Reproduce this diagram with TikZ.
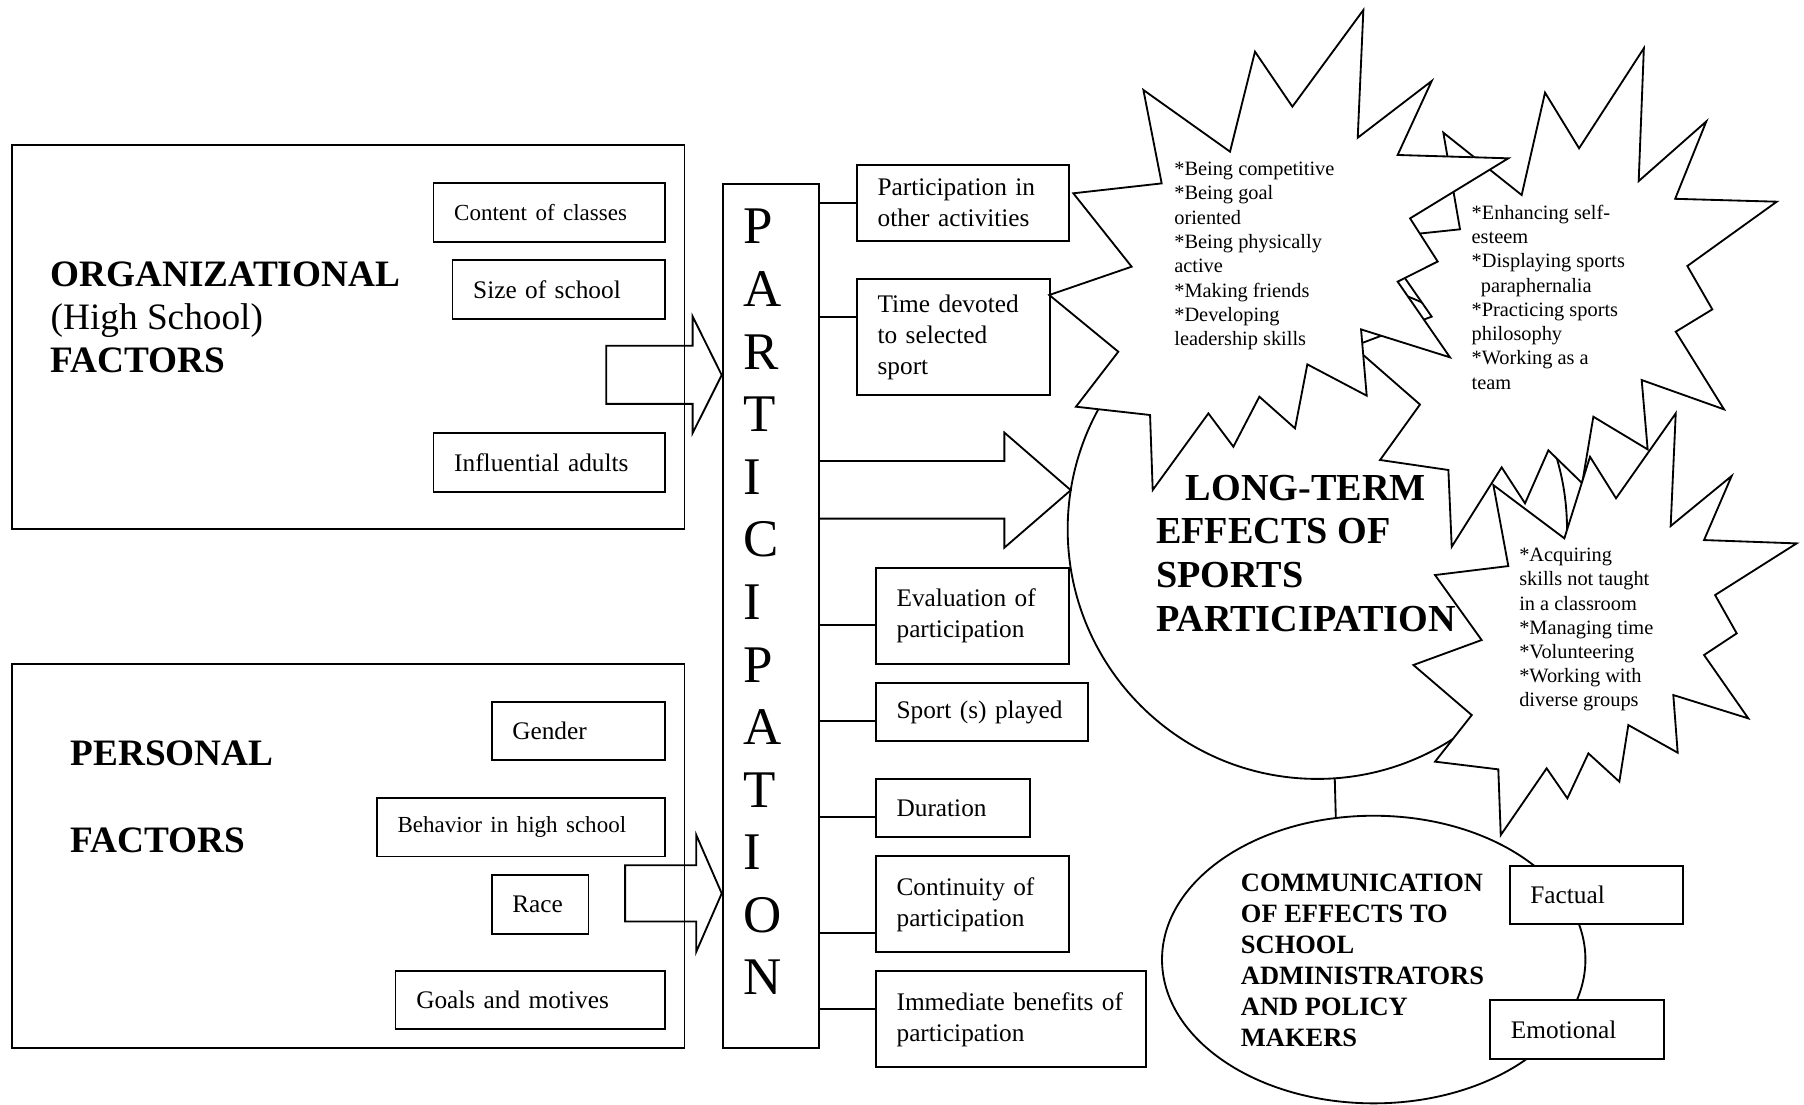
\documentclass[tikz,border=0pt]{standalone}
\usepackage{fontspec}
\setmainfont{Liberation Serif}
\usetikzlibrary{calc,shapes.geometric}
\newcommand\mybox[6]{%
  \pgfmathsetmacro\mbW{(#4-#2)*0.5}%
  \pgfmathsetmacro\mbH{(#5-#3)*0.5}%
  \pgfmathsetmacro\mbT{\mbW-18}%
  \node[bx, minimum width=\mbW pt, minimum height=\mbH pt, text width=\mbT pt] (#1) at (#2,#3) {#6};%
}
\begin{document}
\begin{tikzpicture}[x=0.5pt,y=-0.5pt, line width=0.8pt,
  bx/.style={draw, fill=white, anchor=north west, align=left, inner xsep=9pt, inner ysep=0pt, font=\fontsize{11}{13.4}\selectfont},
  frame/.style={draw, anchor=north west, inner sep=0pt},
  ttl/.style={anchor=base west, inner sep=0pt, font=\fontsize{16.2}{19}\selectfont\bfseries},
  ttlr/.style={anchor=base west, inner sep=0pt, font=\fontsize{16.2}{19}\selectfont},
  lttl/.style={anchor=base west, inner sep=0pt, font=\fontsize{16.6}{19}\selectfont\bfseries},
  commtxt/.style={anchor=base west, inner sep=0pt, font=\fontsize{11.5}{13.5}\selectfont\bfseries},
  sttxt/.style={anchor=base west, inner sep=0pt, font=\fontsize{8.85}{10.6}\selectfont},
  pletter/.style={anchor=base west, inner sep=0pt, font=\fontsize{23}{27}\selectfont},
  burst/.style={draw, fill=white},
  barrow/.style={draw},
]
\fill[white] (0,0) rectangle (1568,960);
\useasboundingbox (0,0) rectangle (1568,960);

% outer frames
\node[frame, minimum width=292.4pt, minimum height=167pt] (org) at (9.3,125.2) {};
\node[frame, minimum width=292.4pt, minimum height=167pt] (pers) at (9.3,576) {};

% factor boxes
\mybox{content}{376}{158.5}{577.3}{209.5}{\fontsize{10}{12}\selectfont Content of classes}
\mybox{size}{392.5}{225.4}{577.3}{276.7}{Size of school}
\mybox{infl}{376}{375.8}{577.3}{426.8}{Influential adults}
\mybox{gender}{426.5}{609.3}{577.3}{660}{Gender}
\mybox{behav}{326.8}{692.5}{577.3}{743.7}{\fontsize{10}{12}\selectfont Behavior in high school}
\mybox{race}{426.5}{759.4}{510.7}{810.7}{Race}
\mybox{goals}{343}{843.1}{577.3}{893.8}{Goals and motives}

\node[ttl] (org1) at (43.3,248.6) {ORGANIZATIONAL};
\node[ttlr] (org2) at (43.3,286) {(High School)};
\node[ttl] (org3) at (43.3,324) {FACTORS};
\node[ttl] (pers1) at (60.5,665) {PERSONAL};
\node[ttl] (pers2) at (60.5,741.2) {FACTORS};

% participation column
\node[frame, minimum width=42pt, minimum height=375.6pt] (part) at (627.3,158.8) {};
\foreach \l [count=\i] in {P,A,R,T,I,C,I,P,A,T,I,O,N}
  \node[pletter] (pl\i) at (645,{212+54.4*(\i-1)}) {\l};

% block arrows into participation
\draw[barrow] (527,300.5) -- (602,300.5) -- (602,275) -- (part.west |- 0,326) -- (602,376.5) -- (602,351) -- (527,351) -- cycle;
\draw[barrow] (543.3,752) -- (605.2,752) -- (605.2,725.8) -- (part.west |- 0,776.5) -- (605.2,827.2) -- (605.2,801) -- (543.3,801) -- cycle;

% participation aspects
\mybox{partin}{744}{142.5}{928}{209}{\raisebox{-2.5pt}{\parbox{\linewidth}{Participation in\\other activities}}}
\mybox{time}{744}{242}{911.5}{342.7}{Time devoted\\to selected\\sport}
\mybox{eval}{760.5}{492.6}{928}{576.5}{Evaluation of\\participation}
\mybox{sport}{760.5}{592.9}{945}{643.5}{Sport (s) played}
\mybox{dur}{760.5}{676.4}{894.6}{727}{Duration}
\mybox{cont}{760.5}{743.5}{928}{827}{Continuity of\\participation}
\mybox{imm}{760.5}{843.5}{995}{926.9}{Immediate benefits of\\participation}
\foreach \b/\s in {partin/0,time/8.7,eval/-3.85,sport/-4,dur/-3.8,cont/-12.3,imm/4.45}{
  \coordinate (c\b) at ([yshift=\s pt]\b.west);
  \draw (c\b -| part.east) -- (c\b);
}

% long-term circle and arrow
\node[circle, draw, fill=white, minimum size=217pt, inner sep=0pt, outer sep=0pt] (lt) at (1145,460) {};
\draw[barrow] (part.east |- 0,400.7) -- (873,400.7) -- (873,376) -- (lt.171) -- (873,476) -- (873,450.8) -- (part.east |- 0,450.8);

% starbursts
\draw[burst] (1254.5,115.3) -- (1322.6,169.5) -- (1342.9,80.5) -- (1372.5,128.9) -- (1428.8,41.9) -- (1424.3,157.4) -- (1483.1,105.5) -- (1456.0,172.8) -- (1544.3,175.3) -- (1466.6,231.2) -- (1488.3,268.9) -- (1456.5,288.3) -- (1498.5,355.8) -- (1426.9,330.3) -- (1432.1,390.6) -- (1384.9,362.2) -- (1375.2,420.0) -- (1345.8,391.4) -- (1325.5,437.5) -- (1305.2,406.2) -- (1261.8,475.2) -- (1258.9,408.5) -- (1199.5,399.8) -- (1234.2,351.6) -- (1176.3,301.0) -- (1244.4,275.2) -- (1196.9,206.9) -- (1269.0,199.3) -- cycle;
\draw[burst] (932.9,168.0) -- (1009.7,159.4) -- (993.8,78.2) -- (1069.1,131.8) -- (1090.8,44.9) -- (1123.3,92.7) -- (1185.0,8.7) -- (1180.1,119.7) -- (1244.4,70.4) -- (1214.8,134.7) -- (1311.0,137.6) -- (1225.6,189.8) -- (1249.6,227.3) -- (1214.8,244.8) -- (1260.3,310.6) -- (1183.0,286.3) -- (1187.9,343.9) -- (1136.3,316.7) -- (1125.6,372.3) -- (1094.6,344.8) -- (1072.0,388.3) -- (1050.3,359.3) -- (1001.9,425.9) -- (999.6,360.7) -- (935.2,353.5) -- (972.0,305.7) -- (912.0,256.4) -- (983.6,231.8) -- cycle;
\draw[burst] (1298.0,421.6) -- (1359.7,467.9) -- (1382.0,397.0) -- (1404.6,433.1) -- (1456.5,359.3) -- (1452.1,457.2) -- (1505.1,413.7) -- (1481.1,469.4) -- (1561.6,472.3) -- (1490.7,517.2) -- (1509.5,550.5) -- (1481.1,569.3) -- (1519.6,624.4) -- (1454.4,604.1) -- (1458.2,654.2) -- (1415.3,630.2) -- (1407.5,679.4) -- (1380.6,654.8) -- (1362.3,693.9) -- (1344.3,667.8) -- (1304.4,725.8) -- (1302.3,668.7) -- (1247.3,662.0) -- (1279.2,621.5) -- (1228.5,578.0) -- (1287.8,556.3) -- (1247.3,499.8) -- (1311.0,492.0) -- cycle;

\foreach \t [count=\i] in {*Being competitive,*Being goal,oriented,*Being physically,active,*Making friends,*Developing,leadership skills}
  \node[sttxt] (sa\i) at (1019.9,{152.4+21.15*(\i-1)}) {\t};
\foreach \t [count=\i] in {*Enhancing self-,esteem,*Displaying sports,\hspace{4pt}paraphernalia,*Practicing sports,philosophy,*Working as a,team}
  \node[sttxt] (sb\i) at (1278.3,{190.6+21.1*(\i-1)}) {\t};
\foreach \t [count=\i] in {*Acquiring,skills not taught,in a classroom,*Managing time,*Volunteering,*Working with,diverse groups}
  \node[sttxt] (sc\i) at (1319.7,{488.2+21*(\i-1)}) {\t};

\node[lttl] (lt1) at (1030,434.6) {LONG-TERM};
\node[lttl] (lt2) at (1004,472.6) {EFFECTS OF};
\node[lttl] (lt3) at (1004,510.6) {SPORTS};
\node[lttl] (lt4) at (1004,548.6) {PARTICIPATION};

% communication
\node[ellipse, draw, fill=white, minimum width=184pt, minimum height=125pt, inner sep=0pt, outer sep=0pt] (comm) at (1194,834) {};
\draw (lt.-86) -- (comm.105.5);
\mybox{factual}{1311.3}{751.8}{1462.3}{802.5}{Factual}
\mybox{emot}{1294.5}{868.6}{1445.4}{919.3}{Emotional}
\foreach \t [count=\i] in {COMMUNICATION,OF EFFECTS TO,SCHOOL,ADMINISTRATORS,AND POLICY,MAKERS}
  \node[commtxt] (cm\i) at (1077.8,{775+27*(\i-1)}) {\t};
\end{tikzpicture}
\end{document}
